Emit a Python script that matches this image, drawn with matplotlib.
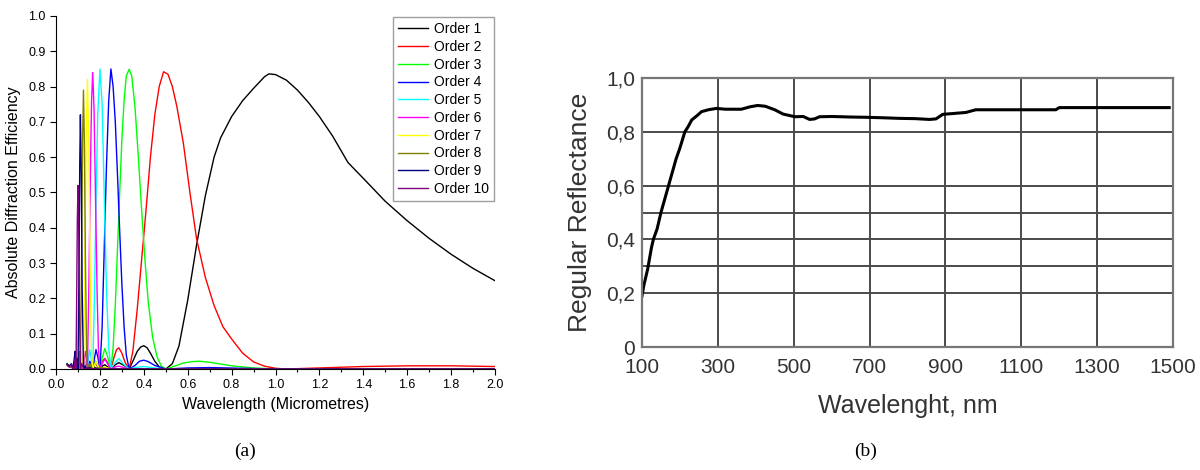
import numpy as np
import matplotlib
matplotlib.use("Agg")
import matplotlib.pyplot as plt
from matplotlib.ticker import MultipleLocator, FixedLocator, FormatStrFormatter

plt.rcParams['font.family'] = ['Liberation Sans', 'DejaVu Sans']

# ---- (a) diffraction efficiency per order ----
order1_x = [0.05, 0.07, 0.09, 0.11, 0.125, 0.14, 0.167, 0.18, 0.2, 0.21, 0.222, 0.235, 0.25, 0.27, 0.286,
            0.31, 0.333, 0.35, 0.37, 0.385, 0.40, 0.415, 0.43, 0.45, 0.47, 0.5, 0.53, 0.56, 0.6, 0.64, 0.68,
            0.72, 0.75, 0.8, 0.85, 0.9, 0.95, 0.97, 1.0, 1.05, 1.1, 1.15, 1.2, 1.26, 1.33, 1.4, 1.5, 1.6,
            1.7, 1.8, 1.9, 2.0]
order1_y = [0.012, 0.008, 0.010, 0.006, 0.008, 0.004, 0.010, 0.003, 0.0, 0.008, 0.012, 0.006, 0.0, 0.012, 0.018,
            0.010, 0.0, 0.022, 0.050, 0.062, 0.066, 0.060, 0.045, 0.022, 0.006, 0.0, 0.015, 0.065, 0.195, 0.35, 0.49,
            0.60, 0.655, 0.715, 0.76, 0.795, 0.828, 0.836, 0.834, 0.818, 0.79, 0.755, 0.715, 0.66, 0.585, 0.54, 0.475,
            0.42, 0.37, 0.325, 0.285, 0.25]

order2_x = [0.05, 0.07, 0.09, 0.1, 0.111, 0.125, 0.14, 0.155, 0.167, 0.18, 0.19, 0.2, 0.212, 0.222, 0.235, 0.25,
            0.265, 0.276, 0.286, 0.30, 0.315, 0.333, 0.35, 0.37, 0.39, 0.41, 0.43, 0.45, 0.47, 0.49, 0.51, 0.53,
            0.55, 0.58, 0.61, 0.64, 0.68, 0.72, 0.76, 0.8, 0.85, 0.9, 0.95, 1.0, 1.05, 1.1, 1.2, 1.3, 1.4, 1.5,
            1.6, 1.7, 1.8, 1.9, 2.0]
order2_y = [0.010, 0.006, 0.012, 0.004, 0.0, 0.012, 0.004, 0.016, 0.004, 0.018, 0.006, 0.0, 0.022, 0.030, 0.018, 0.0,
            0.035, 0.055, 0.060, 0.045, 0.018, 0.0, 0.05, 0.17, 0.31, 0.45, 0.60, 0.72, 0.80, 0.842, 0.835, 0.80,
            0.745, 0.64, 0.50, 0.37, 0.26, 0.18, 0.12, 0.085, 0.045, 0.02, 0.008, 0.002, 0.0, 0.001, 0.003, 0.005,
            0.007, 0.008, 0.009, 0.009, 0.009, 0.008, 0.007]

order3_x = [0.05, 0.07, 0.083, 0.1, 0.111, 0.125, 0.133, 0.143, 0.154, 0.167, 0.18, 0.2, 0.21, 0.222, 0.235, 0.25,
            0.26, 0.27, 0.28, 0.29, 0.30, 0.31, 0.32, 0.333, 0.345, 0.36, 0.375, 0.39, 0.405, 0.42, 0.44, 0.46,
            0.48, 0.5, 0.54, 0.58, 0.62, 0.65, 0.7, 0.75, 0.8, 0.9, 1.0, 1.2, 1.5, 2.0]
order3_y = [0.015, 0.006, 0.010, 0.004, 0.008, 0.0, 0.008, 0.0, 0.012, 0.0, 0.022, 0.0, 0.03, 0.058, 0.035, 0.0,
            0.06, 0.18, 0.34, 0.50, 0.65, 0.76, 0.83, 0.849, 0.83, 0.74, 0.60, 0.45, 0.31, 0.19, 0.09, 0.035,
            0.008, 0.0, 0.008, 0.017, 0.021, 0.022, 0.019, 0.014, 0.009, 0.003, 0.0, 0.001, 0.001, 0.001]

order4_x = [0.05, 0.07, 0.08, 0.091, 0.1, 0.111, 0.118, 0.125, 0.133, 0.143, 0.154, 0.167, 0.175, 0.182, 0.19,
            0.2, 0.21, 0.22, 0.23, 0.24, 0.25, 0.26, 0.27, 0.28, 0.29, 0.30, 0.31, 0.32, 0.333, 0.36, 0.38, 0.4,
            0.42, 0.45, 0.5, 0.6, 0.7, 0.85, 1.0, 1.5, 2.0]
order4_y = [0.012, 0.004, 0.010, 0.0, 0.008, 0.0, 0.010, 0.0, 0.012, 0.0, 0.022, 0.0, 0.03, 0.055, 0.035,
            0.0, 0.12, 0.35, 0.58, 0.76, 0.85, 0.80, 0.70, 0.55, 0.39, 0.24, 0.12, 0.04, 0.0, 0.01, 0.022, 0.025,
            0.021, 0.01, 0.0, 0.003, 0.004, 0.002, 0.0, 0.0, 0.0]

order5_x = [0.05, 0.07, 0.083, 0.091, 0.1, 0.111, 0.118, 0.125, 0.133, 0.143, 0.148, 0.154, 0.16, 0.167, 0.175,
            0.183, 0.19, 0.2, 0.21, 0.22, 0.23, 0.24, 0.25, 0.265, 0.286, 0.305, 0.333, 0.37, 0.4, 0.45, 0.5,
            1.0, 2.0]
order5_y = [0.010, 0.005, 0.010, 0.0, 0.010, 0.0, 0.012, 0.0, 0.022, 0.0, 0.03, 0.055, 0.03, 0.0, 0.2,
            0.50, 0.72, 0.85, 0.75, 0.48, 0.22, 0.06, 0.0, 0.015, 0.030, 0.015, 0.0, 0.005, 0.007, 0.003, 0.0,
            0.0, 0.0]

order6_x = [0.05, 0.07, 0.08, 0.091, 0.1, 0.105, 0.111, 0.118, 0.125, 0.13, 0.133, 0.138, 0.143, 0.15, 0.157,
            0.162, 0.167, 0.173, 0.18, 0.187, 0.193, 0.2, 0.21, 0.222, 0.235, 0.25, 0.27, 0.286, 0.31, 0.333,
            0.5, 2.0]
order6_y = [0.012, 0.004, 0.010, 0.0, 0.012, 0.008, 0.0, 0.022, 0.0, 0.035, 0.05, 0.03, 0.0, 0.25, 0.58,
            0.76, 0.84, 0.74, 0.48, 0.22, 0.06, 0.0, 0.015, 0.028, 0.015, 0.0, 0.006, 0.008, 0.004, 0.0,
            0.0, 0.0]

order7_x = [0.05, 0.07, 0.08, 0.091, 0.1, 0.105, 0.111, 0.115, 0.12, 0.125, 0.131, 0.137, 0.143, 0.149, 0.155,
            0.161, 0.167, 0.175, 0.182, 0.19, 0.2, 0.222, 0.25, 0.5, 2.0]
order7_y = [0.010, 0.006, 0.012, 0.0, 0.015, 0.02, 0.0, 0.05, 0.02, 0.0, 0.3, 0.65, 0.82, 0.65, 0.3,
            0.06, 0.0, 0.012, 0.02, 0.01, 0.0, 0.006, 0.0, 0.0, 0.0]

order8_x = [0.05, 0.07, 0.083, 0.091, 0.095, 0.1, 0.105, 0.108, 0.111, 0.116, 0.121, 0.125, 0.129, 0.134,
            0.139, 0.143, 0.148, 0.154, 0.16, 0.167, 0.2, 0.25, 2.0]
order8_y = [0.012, 0.005, 0.010, 0.0, 0.02, 0.0, 0.05, 0.02, 0.0, 0.3, 0.65, 0.79, 0.65, 0.3,
            0.06, 0.0, 0.01, 0.015, 0.008, 0.0, 0.004, 0.0, 0.0]

order9_x = [0.05, 0.06, 0.07, 0.077, 0.083, 0.087, 0.091, 0.095, 0.1, 0.105, 0.108, 0.111, 0.115, 0.119,
            0.125, 0.13, 0.143, 0.154, 0.167, 2.0]
order9_y = [0.015, 0.008, 0.015, 0.0, 0.03, 0.05, 0.0, 0.03, 0.0, 0.3, 0.58, 0.72, 0.55, 0.22,
            0.0, 0.008, 0.0, 0.004, 0.0, 0.0]

order10_x = [0.05, 0.06, 0.07, 0.077, 0.083, 0.087, 0.091, 0.094, 0.097, 0.1, 0.103, 0.106, 0.111, 0.118,
             0.125, 0.143, 0.167, 2.0]
order10_y = [0.012, 0.005, 0.012, 0.0, 0.0, 0.03, 0.0, 0.2, 0.42, 0.52, 0.42, 0.2, 0.0, 0.015,
             0.0, 0.003, 0.0, 0.0]

orders_x = [order1_x, order2_x, order3_x, order4_x, order5_x, order6_x, order7_x, order8_x, order9_x, order10_x]
orders_y = [order1_y, order2_y, order3_y, order4_y, order5_y, order6_y, order7_y, order8_y, order9_y, order10_y]
order_labels = [f"Order {i}" for i in range(1, 11)]
order_colors = ['black', '#ff0000', '#00ff00', '#0000ff', '#00ffff', '#ff00ff', '#ffff00', '#808000',
                '#000080', '#800080']

# ---- (b) regular reflectance ----
refl_wl = [100, 105, 110, 115, 120, 125, 130, 140, 150, 160, 170, 180, 190, 200, 213, 222, 231, 245, 257, 275,
           296, 320, 362, 385, 405, 425, 450, 472, 503, 525, 542, 555, 568, 600, 650, 691, 740, 779, 820, 858,
           875, 893, 920, 954, 980, 1042, 1100, 1150, 1191, 1200, 1300, 1400, 1490]
refl_val = [0.19, 0.23, 0.26, 0.29, 0.33, 0.37, 0.40, 0.44, 0.50, 0.55, 0.60, 0.65, 0.70, 0.74, 0.80, 0.82, 0.844,
            0.86, 0.875, 0.882, 0.887, 0.884, 0.884, 0.893, 0.898, 0.895, 0.882, 0.866, 0.856, 0.857, 0.846, 0.848,
            0.856, 0.857, 0.855, 0.854, 0.852, 0.850, 0.849, 0.846, 0.848, 0.865, 0.868, 0.872, 0.882, 0.882,
            0.882, 0.882, 0.882, 0.890, 0.890, 0.890, 0.890]
refl_yticks = [0, 0.2, 0.4, 0.6, 0.8, 1.0]
refl_ylabels = ['0', '0,2', '0,4', '0,6', '0,8', '1,0']
refl_hlines = [0.2, 0.3, 0.4, 0.5, 0.6, 0.8]
refl_xticks = [100, 300, 500, 700, 900, 1100, 1300, 1500]

fig = plt.figure(figsize=(12, 4.7), dpi=100)

# (a)
ax1 = fig.add_axes([0.0467, 0.2149, 0.3658, 0.7511])
for xs, ys, lab, col in zip(orders_x, orders_y, order_labels, order_colors):
    ax1.plot(xs, ys, color=col, lw=1.0, label=lab)
ax1.set_xlim(0, 2.0)
ax1.set_ylim(0, 1.0)
ax1.xaxis.set_major_locator(MultipleLocator(0.2))
ax1.xaxis.set_minor_locator(MultipleLocator(0.1))
ax1.yaxis.set_major_locator(MultipleLocator(0.1))
ax1.xaxis.set_major_formatter(FormatStrFormatter('%.1f'))
ax1.yaxis.set_major_formatter(FormatStrFormatter('%.1f'))
ax1.spines['top'].set_visible(False)
ax1.spines['right'].set_visible(False)
ax1.tick_params(labelsize=9, length=4, width=0.8)
ax1.tick_params(which='minor', length=2.5, width=0.8)
ax1.set_xlabel("Wavelength (Micrometres)", fontsize=11.5, labelpad=4)
ax1.set_ylabel("Absolute Diffraction Efficiency", fontsize=11.5, labelpad=5)
leg = ax1.legend(loc='upper right', fontsize=10, frameon=True, fancybox=False, handlelength=2.2,
                 labelspacing=0.27, borderaxespad=0.1, handletextpad=0.4, borderpad=0.35)
leg.get_frame().set_edgecolor('#888888')
leg.get_frame().set_linewidth(1.0)

# (b)
ax2 = fig.add_axes([0.535, 0.2617, 0.4425, 0.5723])
ax2.plot(refl_wl, refl_val, color='black', lw=2.2)
ax2.set_xlim(100, 1500)
ax2.set_ylim(0, 1.0)
ax2.set_xticks(refl_xticks)
ax2.set_yticks(refl_yticks)
ax2.set_yticklabels(refl_ylabels)
ax2.yaxis.remove_overlapping_locs = False
ax2.yaxis.set_minor_locator(FixedLocator(refl_hlines))
ax2.grid(True, axis='x', which='major', color='#4a4a4a', lw=1.4)
ax2.grid(True, axis='y', which='minor', color='#4a4a4a', lw=1.4)
ax2.tick_params(which='both', length=0, labelsize=15, colors='#333333')
ax2.tick_params(axis='x', pad=8)
ax2.tick_params(axis='y', pad=5)
for sp in ax2.spines.values():
    sp.set_color('#777777')
    sp.set_linewidth(1.6)
ax2.set_xlabel("Wavelenght, nm", fontsize=18, color='#333333', labelpad=12)
ax2.set_ylabel("Regular Reflectance", fontsize=19, color='#333333', labelpad=10)

fig.text(245 / 1200, 1 - 451 / 470, "(a)", family='Liberation Serif', fontsize=14, ha='center', va='center')
fig.text(866 / 1200, 1 - 451 / 470, "(b)", family='Liberation Serif', fontsize=14, ha='center', va='center')

fig.savefig("out.png", dpi=100)
